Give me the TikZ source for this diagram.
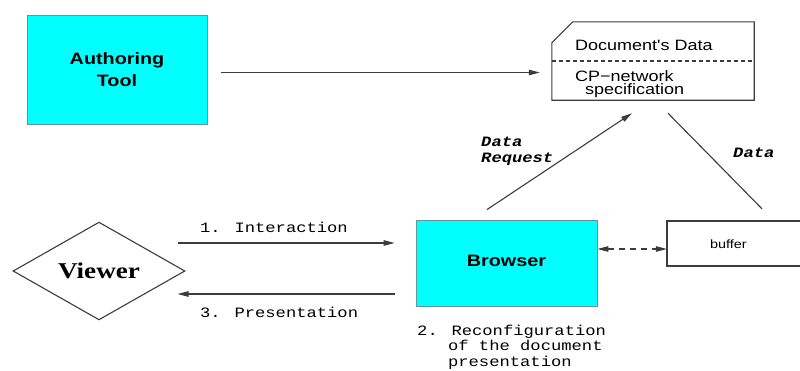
\documentclass[tikz,border=0pt]{standalone}
\usepackage{fontspec}
\usetikzlibrary{arrows.meta,shapes.geometric}
\newfontfamily\hsans[FakeStretch=1.2]{Liberation Sans}
\newfontfamily\hserif[FakeStretch=1.2]{Liberation Serif}
\newfontfamily\hmono[FakeStretch=1.2]{Liberation Mono}
\definecolor{linegray}{RGB}{60,60,60}
\definecolor{boxcyan}{RGB}{0,255,255}
\definecolor{cyanedge}{RGB}{100,150,150}
\tikzset{
  cyanbox/.style={draw=cyanedge,line width=0.9pt,fill=boxcyan,inner sep=0pt,
    font=\hsans\bfseries\fontsize{16.5}{22}\selectfont,align=center,text=black},
  plainbox/.style={draw=linegray,line width=1.1pt,inner sep=0pt},
  conn/.style={draw=linegray,line width=1.1pt},
  arr/.style={conn,-{Triangle[length=11pt,width=5.5pt]}},
  darr/.style={conn,dashed,dash pattern=on 6pt off 5pt,
    {Triangle[length=11pt,width=5.5pt]}-{Triangle[length=11pt,width=5.5pt]}},
  monolbl/.style={font=\hmono\fontsize{14.3}{15.5}\selectfont,inner sep=0pt,anchor=base west,align=left,text=black},
  datalbl/.style={font=\hmono\bfseries\itshape\fontsize{14.3}{16}\selectfont,inner sep=0pt,anchor=base west,align=left,text=black},
  doctext/.style={font=\hsans\fontsize{15}{13.5}\selectfont,inner sep=0pt,anchor=base west,align=left,text=black}
}
\begin{document}
\begin{tikzpicture}[x=1pt,y=-1pt]
\useasboundingbox[fill=white] (0,0) rectangle (800,370);

% Authoring tool
\node[cyanbox,minimum width=180pt,minimum height=109pt] (auth) at (117,69.5) {Authoring\\Tool};

% Document box
\node[inner sep=0pt,minimum width=202pt,minimum height=78pt] (doc) at (653,61) {};
\draw[conn] ([shift={(0,21)}]doc.north west) -- ([shift={(21,0)}]doc.north west)
  -- (doc.north east) -- (doc.south east) -- (doc.south west) -- cycle;
\draw[conn,dashed,dash pattern=on 4pt off 3pt] (doc.west) -- (doc.east);
\node[doctext] (docdata) at (575,50) {Document's Data};
\node[doctext] (cpnet) at (575,94.5) {CP\textminus network\\\hspace*{10pt}specification};

% Browser
\node[cyanbox,minimum width=181pt,minimum height=86pt] (browser) at (506.5,263) {\raisebox{3.5pt}{Browser}};

% buffer
\draw[plainbox] (810,221) -- (667,221) -- (667,266) -- (810,266);
\node[inner sep=0pt,minimum width=143pt,minimum height=45pt] (buffer) at (738.5,243.5) {};
\node[font=\hsans\fontsize{12}{14}\selectfont,text=black] (buftext) at (728.5,244) {buffer};

% Viewer
\node[draw=linegray,line width=1.1pt,shape=diamond,inner sep=0pt,minimum width=172pt,minimum height=91pt,
  font=\hserif\bfseries\fontsize{22.6}{26}\selectfont,text=black] (viewer) at (99,271) {Viewer};

% connectors
\coordinate (dochook) at ([shift={(-12,11.5)}]doc.west);
\draw[arr] ([shift={(14,3)}]auth.east) -- (dochook);
\draw[arr] ([shift={(-19.5,-10)}]browser.north) -- ([shift={(-21,13)}]doc.south);
\draw[conn] ([shift={(15,13)}]doc.south) -- ([shift={(23.5,-12)}]buffer.north);
\draw[darr] ([shift={(0,-14)}]browser.east) -- ([shift={(0,5.5)}]buffer.west);
\draw[arr] ([shift={(-8,-28)}]viewer.east) -- ([shift={(-21,-20)}]browser.west);
\draw[arr] ([shift={(-21,31)}]browser.west) -- ([shift={(-8,23)}]viewer.east);

% labels
\node[datalbl] (lblreq) at (481,162) {Data\\Request};
\node[datalbl] (lbldata) at (733,157) {Data};
\node[monolbl] (lblint) at (200,232) {1. Interaction};
\node[monolbl] (lblpres) at (200,317) {3. Presentation};
\node[monolbl] (lblreconf) at (417,366) {2. Reconfiguration\\\hspace*{30.9pt}of the document\\\hspace*{30.9pt}presentation};
\end{tikzpicture}
\end{document}
